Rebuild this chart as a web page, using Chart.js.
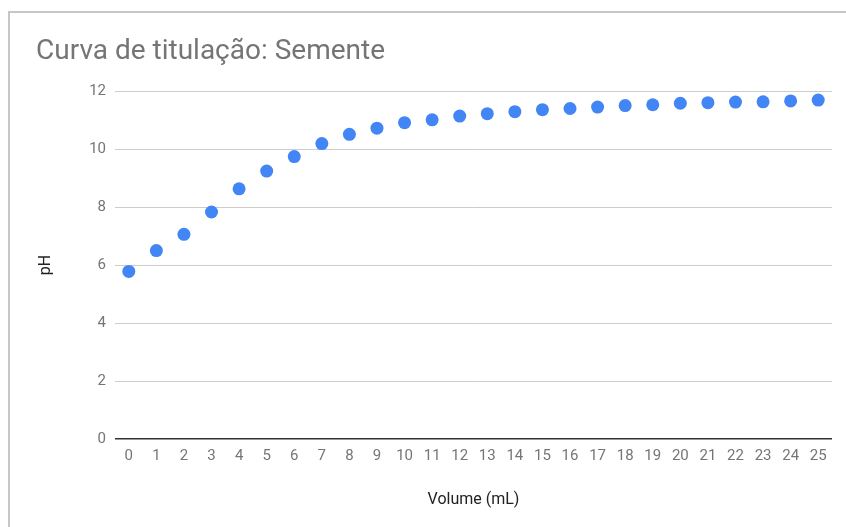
<!DOCTYPE html>
<html>
<head>
<meta charset="utf-8">
<script src="https://cdn.jsdelivr.net/npm/chart.js@4/dist/chart.umd.min.js"></script>
<style>
  html, body { margin: 0; padding: 0; background: #ffffff; overflow: hidden; }
  #wrap { position: relative; width: 846px; height: 527px; }
  #frame {
    position: absolute; left: 8px; top: 11px; width: 860px; height: 540px;
    border: 2px solid #c6c6c6; box-sizing: border-box; pointer-events: none;
  }
  canvas { position: absolute; left: 0; top: 0; }
</style>
</head>
<body>
<div id="wrap">
  <canvas id="chart" width="846" height="527"></canvas>
  <div id="frame"></div>
</div>
<script>
// Titration curve: pH measured after each added millilitre of titrant
const volumes = ['0','1','2','3','4','5','6','7','8','9','10','11','12','13','14','15','16','17','18','19','20','21','22','23','24','25'];
const phValues = [5.78, 6.50, 7.06, 7.83, 8.63, 9.24, 9.74, 10.19, 10.51, 10.72, 10.91, 11.01, 11.14,
                  11.22, 11.29, 11.36, 11.40, 11.45, 11.50, 11.53, 11.58, 11.60, 11.62, 11.63, 11.66, 11.69];
const yTicks = [0, 2, 4, 6, 8, 10, 12];

const chartTitle = 'Curva de titulação: Semente';
const xTitle = 'Volume (mL)';
const yTitle = 'pH';

const FONT = 'Roboto, "Noto Sans", Arial, sans-serif';

new Chart(document.getElementById('chart'), {
  type: 'line',
  data: {
    labels: volumes,
    datasets: [{
      label: yTitle,
      data: phValues,
      showLine: false,
      pointRadius: 6.5,
      pointHoverRadius: 6.5,
      pointBackgroundColor: '#4285F4',
      pointBorderWidth: 0,
      borderColor: '#4285F4'
    }]
  },
  options: {
    responsive: false,
    animation: false,
    layout: { padding: { left: 36, right: 14, top: 35, bottom: 0 } },
    plugins: {
      legend: { display: false },
      tooltip: { enabled: false },
      title: {
        display: true,
        text: chartTitle,
        align: 'start',
        color: '#757575',
        font: { family: FONT, size: 28, weight: 'normal' },
        padding: { top: 0, bottom: 22.5 }
      }
    },
    scales: {
      x: {
        type: 'category',
        offset: true,
        grid: { display: false, drawTicks: false },
        border: { display: false },
        ticks: {
          color: '#757575',
          font: { family: FONT, size: 15 },
          padding: 8,
          autoSkip: false,
          maxRotation: 0
        },
        title: {
          display: true,
          text: xTitle,
          color: '#222222',
          font: { family: FONT, size: 16 },
          padding: { top: 0, bottom: 17 }
        },
        afterFit: (s) => { s.height = 88; }
      },
      y: {
        min: 0,
        max: 12,
        afterBuildTicks: (s) => { s.ticks = yTicks.map(v => ({ value: v })); },
        grid: {
          drawTicks: false,
          color: (ctx) => ctx.tick && ctx.tick.value === 0 ? '#333333' : '#cccccc',
          lineWidth: (ctx) => ctx.tick && ctx.tick.value === 0 ? 1.5 : 1
        },
        border: { display: false },
        ticks: {
          color: '#757575',
          font: { family: FONT, size: 15 },
          padding: 9
        },
        title: {
          display: true,
          text: yTitle,
          color: '#222222',
          font: { family: FONT, size: 16 },
          padding: { top: 0, bottom: 0 }
        },
        afterFit: (s) => { s.width = 79; }
      }
    }
  }
});
</script>
</body>
</html>
